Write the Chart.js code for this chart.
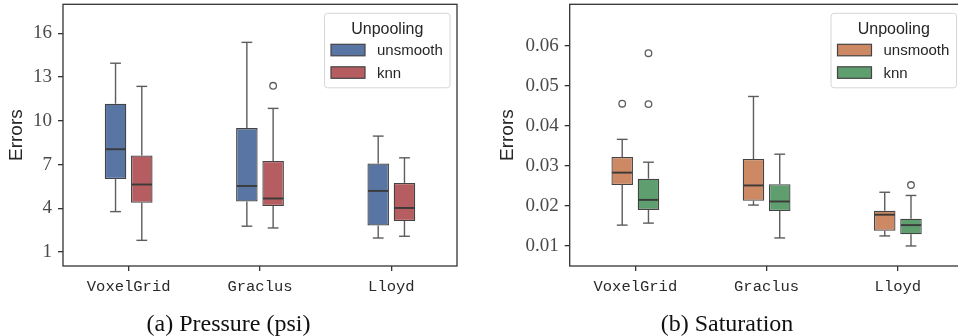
<!DOCTYPE html>
<html>
<head>
<meta charset="utf-8">
<script src="https://cdn.jsdelivr.net/npm/chart.js@4.4.0/dist/chart.umd.min.js"></script>
<style>
  html, body { margin:0; padding:0; background:#fff; width:958px; height:336px; overflow:hidden; position:relative; }
  #ca { position:absolute; left:0; top:0; }
  #cb { position:absolute; left:479px; top:0; }
  .cap { position:absolute; top:311px; height:24px; line-height:24px; text-align:center;
         font-family:'Liberation Serif', serif; font-size:24px; color:#111; white-space:nowrap; }
</style>
</head>
<body>
<canvas id="ca" width="479" height="336"></canvas>
<canvas id="cb" width="500" height="336"></canvas>
<div class="cap" style="left:0;width:457px;">(a) Pressure (psi)</div>
<div class="cap" style="left:479px;width:496px;">(b) Saturation</div>
<script>
// ---------------- data ----------------
const categories = ['VoxelGrid', 'Graclus', 'Lloyd'];
const hueLabels = ['unsmooth', 'knn'];
const legendTitle = 'Unpooling';
const axisTitle = 'Errors';

// each box: [lower whisker, Q1, median, Q3, upper whisker]
const pressureUnsmooth = [
  [3.77, 6.00, 8.05, 11.17, 13.95],
  [2.77, 4.46, 5.53, 9.50, 15.38],
  [1.96, 2.81, 5.19, 7.07, 8.95]
];
const pressureKnn = [
  [1.80, 4.37, 5.63, 7.62, 12.36],
  [2.65, 4.16, 4.67, 7.25, 10.85],
  [2.08, 3.13, 4.02, 5.74, 7.46]
];
const pressureUnsmoothOutliers = [[], [], []];
const pressureKnnOutliers = [[], [12.4], []];
const pressureTicks = [1, 4, 7, 10, 13, 16];
const pressureTickLabels = ['1', '4', '7', '10', '13', '16'];

const saturationUnsmooth = [
  [0.0152, 0.0252, 0.0283, 0.0322, 0.0366],
  [0.0202, 0.0213, 0.0251, 0.0317, 0.0473],
  [0.0125, 0.0138, 0.0178, 0.0188, 0.0234]
];
const saturationKnn = [
  [0.0157, 0.0190, 0.0215, 0.0268, 0.0309],
  [0.0120, 0.0187, 0.0211, 0.0254, 0.0329],
  [0.0100, 0.0129, 0.0152, 0.0168, 0.0226]
];
const saturationUnsmoothOutliers = [[0.0455], [], []];
const saturationKnnOutliers = [[0.0581, 0.0454], [], [0.0252]];
const saturationTicks = [0.01, 0.02, 0.03, 0.04, 0.05, 0.06];
const saturationTickLabels = ['0.01', '0.02', '0.03', '0.04', '0.05', '0.06'];

// ---------------- drawing helpers ----------------
const boxExtras = {
  id: 'boxExtras',
  afterDatasetsDraw(chart) {
    const ctx = chart.ctx, ys = chart.scales.y;
    const line = (x1, y1, x2, y2) => { ctx.beginPath(); ctx.moveTo(x1, y1); ctx.lineTo(x2, y2); ctx.stroke(); };
    chart.data.datasets.forEach((ds, d) => {
      const meta = chart.getDatasetMeta(d);
      meta.data.forEach((el, i) => {
        const s = ds.stats[i];
        const x = el.x, w = el.width;
        const p = s.map(v => ys.getPixelForValue(v));
        ctx.save();
        ctx.strokeStyle = '#5c5c5c';
        ctx.lineWidth = 1.4;
        line(x, p[3], x, p[4]);
        line(x, p[1], x, p[0]);
        line(x - w / 4, p[4], x + w / 4, p[4]);
        line(x - w / 4, p[0], x + w / 4, p[0]);
        ctx.strokeStyle = '#3a3a3a';
        ctx.lineWidth = 1.9;
        line(x - w / 2 + 0.6, p[2], x + w / 2 - 0.6, p[2]);
        ctx.strokeStyle = '#5c5c5c';
        ctx.lineWidth = 1.3;
        (ds.outliers[i] || []).forEach(v => {
          ctx.beginPath();
          ctx.arc(x, ys.getPixelForValue(v), 3.3, 0, Math.PI * 2);
          ctx.stroke();
        });
        ctx.restore();
      });
    });
  },
  afterDraw(chart) {
    const ctx = chart.ctx, ca = chart.chartArea;
    ctx.save();
    // frame
    ctx.strokeStyle = '#333';
    ctx.lineWidth = 1.3;
    ctx.strokeRect(ca.left, ca.top, ca.right - ca.left, ca.bottom - ca.top);
    // legend
    const W = 125.5, H = 74.5;
    const x0 = ca.right - 7 - W, y0 = ca.top + 9;
    ctx.beginPath();
    ctx.roundRect(x0, y0, W, H, 3);
    ctx.fillStyle = 'rgba(255,255,255,0.85)';
    ctx.fill();
    ctx.strokeStyle = '#d6d6d6';
    ctx.lineWidth = 1;
    ctx.stroke();
    ctx.fillStyle = '#262626';
    ctx.font = '16px "Liberation Sans", sans-serif';
    ctx.textAlign = 'center';
    ctx.textBaseline = 'alphabetic';
    ctx.fillText(chart.options.plugins.boxExtras.title, x0 + W / 2, y0 + 21);
    ctx.textAlign = 'left';
    ctx.font = '15px "Liberation Sans", sans-serif';
    chart.data.datasets.forEach((ds, k) => {
      const sy = y0 + 31 + k * 22.5;
      ctx.fillStyle = ds.backgroundColor;
      ctx.fillRect(x0 + 6.5, sy, 34, 11.5);
      ctx.strokeStyle = '#444';
      ctx.lineWidth = 1.2;
      ctx.strokeRect(x0 + 6.5, sy, 34, 11.5);
      ctx.fillStyle = '#262626';
      ctx.fillText(ds.label, x0 + 52.5, sy + 11);
    });
    ctx.restore();
  }
};

function makeChart(id, series, outliers, colors, ticks, tickLabels, yMin, yMax, yWidth, rightPad, titleOffset) {
  const datasets = series.map((boxes, k) => ({
    label: hueLabels[k],
    data: boxes.map(b => [b[1], b[3]]),
    stats: boxes,
    outliers: outliers[k],
    backgroundColor: colors[k],
    borderColor: '#444',
    borderWidth: 1.3,
    borderSkipped: false,
    categoryPercentage: 0.4,
    barPercentage: 0.82
  }));
  return new Chart(document.getElementById(id), {
    type: 'bar',
    data: { labels: categories, datasets },
    plugins: [boxExtras],
    options: {
      responsive: false,
      animation: false,
      devicePixelRatio: 1,
      layout: { padding: { left: 0, right: rightPad, top: 4.3, bottom: 0 } },
      plugins: {
        legend: { display: false },
        tooltip: { enabled: false },
        title: { display: false },
        boxExtras: { title: legendTitle }
      },
      scales: {
        x: {
          type: 'category',
          offset: true,
          border: { display: false },
          grid: { display: true, drawOnChartArea: false, drawTicks: true, tickLength: 5, color: '#333', lineWidth: 1.3, offset: false },
          ticks: { color: '#2a2a2a', padding: 6.5, font: { family: 'Liberation Mono', size: 15.5 } },
          afterFit(s) { s.height = 70; s.paddingLeft = 0; s.paddingRight = 0; }
        },
        y: {
          type: 'linear',
          min: yMin,
          max: yMax,
          border: { display: false },
          grid: { display: true, drawOnChartArea: false, drawTicks: true, tickLength: 5, color: '#333', lineWidth: 1.3 },
          afterBuildTicks(s) { s.ticks = ticks.map(v => ({ value: v })); },
          ticks: {
            color: '#4a4a4a', padding: 6,
            font: { family: 'Liberation Serif', size: 19 },
            callback: (v, i) => tickLabels[i]
          },
          title: {
            display: true, text: axisTitle, color: '#262626',
            font: { family: 'Liberation Sans', size: 19 },
            padding: { top: titleOffset, bottom: 0 }
          },
          afterFit(s) { s.width = yWidth; s.paddingTop = 0; s.paddingBottom = 0; }
        }
      }
    }
  });
}

makeChart('ca', [pressureUnsmooth, pressureKnn], [pressureUnsmoothOutliers, pressureKnnOutliers],
  ['#5975A4', '#B55D60'], pressureTicks, pressureTickLabels, 0.04, 17.99, 63, 22, 5.5);
makeChart('cb', [saturationUnsmooth, saturationKnn], [saturationUnsmoothOutliers, saturationKnnOutliers],
  ['#CC8963', '#5F9E6E'], saturationTicks, saturationTickLabels, 0.005, 0.0703, 90.7, 15.5, 17.5);
</script>
</body>
</html>
